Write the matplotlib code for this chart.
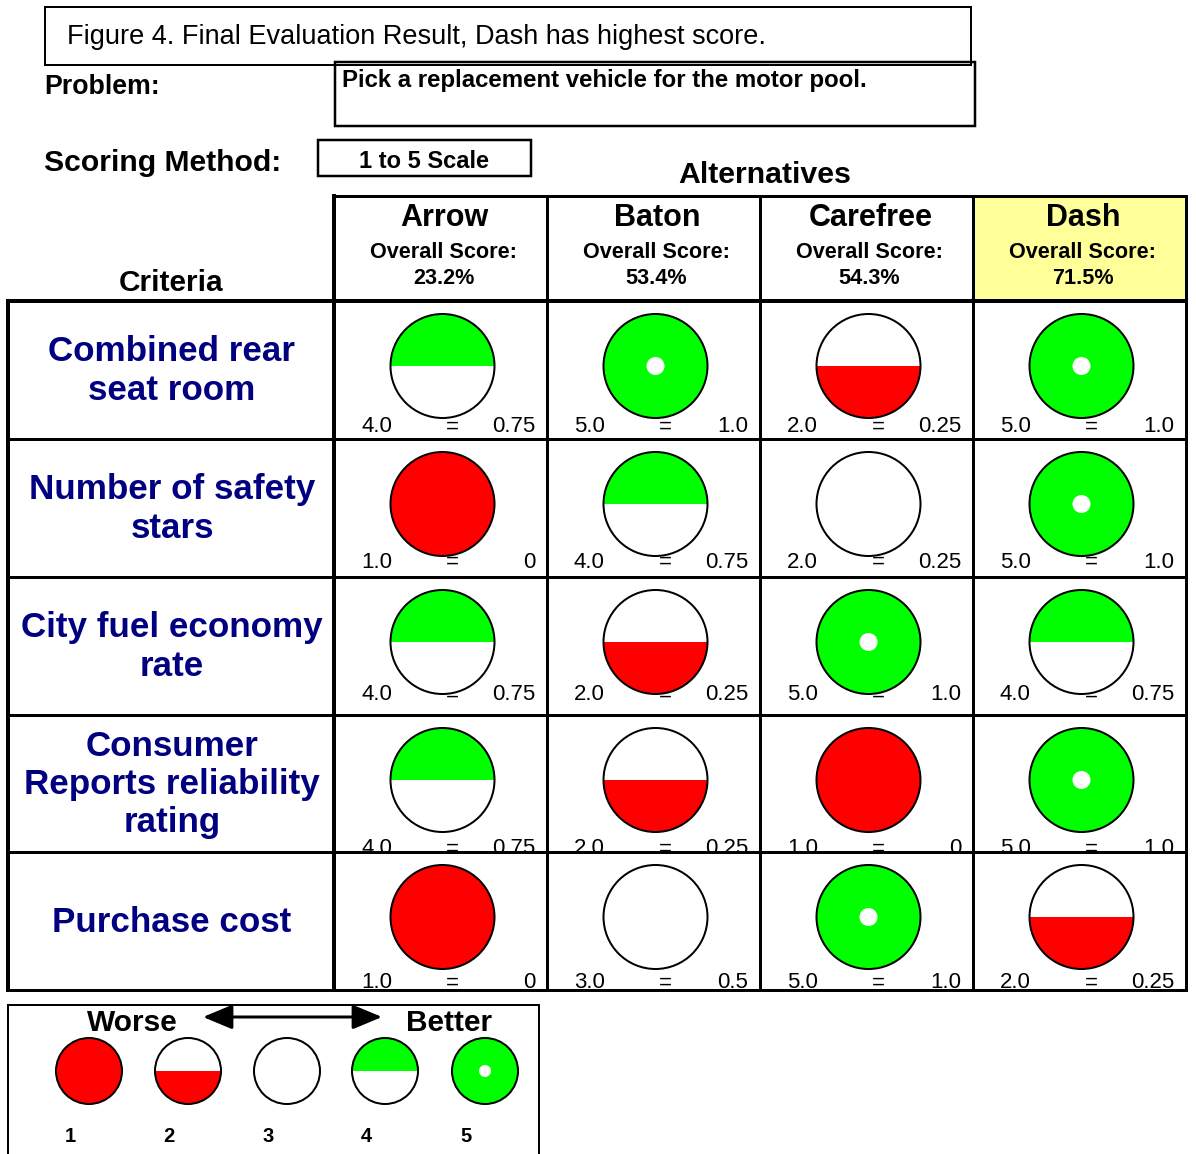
import matplotlib
matplotlib.use("Agg")
import matplotlib.pyplot as plt
from matplotlib.patches import Circle, Wedge, Rectangle

# ---------------- data ----------------
alternatives = ["Arrow", "Baton", "Carefree", "Dash"]
overall_scores = ["23.2%", "53.4%", "54.3%", "71.5%"]
criteria = ["Combined rear\nseat room", "Number of safety\nstars", "City fuel economy\nrate",
            "Consumer\nReports reliability\nrating", "Purchase cost"]
# raw scores (1 to 5 scale), rows = criteria, columns = alternatives
scores = [
    [4, 5, 2, 5],
    [1, 4, 2, 5],
    [4, 2, 5, 4],
    [4, 2, 1, 5],
    [1, 3, 5, 2],
]
# symbol level drawn in each cell (as shown in the chart)
symbols = [
    [4, 5, 2, 5],
    [1, 4, 3, 5],
    [4, 2, 5, 4],
    [4, 2, 1, 5],
    [1, 3, 5, 2],
]
# normalized values as shown
normalized = [
    ["0.75", "1.0", "0.25", "1.0"],
    ["0", "0.75", "0.25", "1.0"],
    ["0.75", "0.25", "1.0", "0.75"],
    ["0.75", "0.25", "0", "1.0"],
    ["0", "0.5", "1.0", "0.25"],
]
legend_levels = [1, 2, 3, 4, 5]

title = "Figure 4. Final Evaluation Result, Dash has highest score."
problem = "Pick a replacement vehicle for the motor pool."
scoring = "1 to 5 Scale"

# ---------------- layout ----------------
W, H = 1196, 1154
FONT = "Liberation Sans"
GREEN = "#00FF00"
RED = "#FF0000"
NAVY = "#000080"
YELLOW = "#FFFF99"

fig = plt.figure(figsize=(W / 100, H / 100), dpi=100)
ax = fig.add_axes([0, 0, 1, 1])
ax.set_xlim(0, W)
ax.set_ylim(0, H)
ax.axis("off")


def Y(y):
    return H - y


def px(p):
    return p * 0.72


def hline(x0, x1, y, w=3):
    ax.plot([x0, x1], [Y(y), Y(y)], color="black", lw=px(w), solid_capstyle="projecting", zorder=5)


def vline(x, y0, y1, w=3):
    ax.plot([x, x], [Y(y0), Y(y1)], color="black", lw=px(w), solid_capstyle="projecting", zorder=5)


def rect(x0, y0, x1, y1, w=2, fc="none"):
    ax.add_patch(Rectangle((x0, Y(y1)), x1 - x0, y1 - y0, fill=(fc != "none"), facecolor=fc,
                           edgecolor="black", lw=px(w), zorder=4))


def harvey(cx, cy, r, level, dot_r):
    cyy = Y(cy)
    lw = px(2)
    if level == 1:
        ax.add_patch(Circle((cx, cyy), r, facecolor=RED, edgecolor="none", zorder=6))
    elif level == 2:
        ax.add_patch(Circle((cx, cyy), r, facecolor="white", edgecolor="none", zorder=6))
        ax.add_patch(Wedge((cx, cyy), r, 180, 360, facecolor=RED, edgecolor="none", zorder=6))
    elif level == 3:
        ax.add_patch(Circle((cx, cyy), r, facecolor="white", edgecolor="none", zorder=6))
    elif level == 4:
        ax.add_patch(Circle((cx, cyy), r, facecolor="white", edgecolor="none", zorder=6))
        ax.add_patch(Wedge((cx, cyy), r, 0, 180, facecolor=GREEN, edgecolor="none", zorder=6))
    else:
        ax.add_patch(Circle((cx, cyy), r, facecolor=GREEN, edgecolor="none", zorder=6))
        ax.add_patch(Circle((cx, cyy), dot_r, facecolor="white", edgecolor="none", zorder=7))
    ax.add_patch(Circle((cx, cyy), r, facecolor="none", edgecolor="black", lw=lw, zorder=8))


def txt(x, y, s, size, weight="normal", ha="left", color="black", va="center", ls=1.2, z=9):
    ax.text(x, Y(y), s, fontsize=size, fontweight=weight, ha=ha, va=va, color=color,
            family=FONT, linespacing=ls, zorder=z)


# ---------------- header area ----------------
rect(45, 7, 971, 65, w=2)
txt(67, 37, title, 19.5)

txt(44, 87, "Problem:", 19.3, "bold")
rect(335, 62, 975, 126, w=2.5)
txt(342, 81, problem, 17.3, "bold")

txt(44, 163, "Scoring Method:", 21.7, "bold")
rect(318, 140, 531, 176, w=2.5)
txt(424, 161, scoring, 17, "bold", ha="center")

txt(765, 175, "Alternatives", 21.8, "bold", ha="center")
txt(171, 283, "Criteria", 21.5, "bold", ha="center")

# ---------------- grid ----------------
col_x = [334, 547, 760, 973, 1186]
row_y = [301, 439, 577, 715, 852, 990]
header_top = 196

# Dash header fill
ax.add_patch(Rectangle((col_x[3], Y(row_y[0])), col_x[4] - col_x[3], row_y[0] - header_top,
                       facecolor=YELLOW, edgecolor="none", zorder=1))

for i, name in enumerate(alternatives):
    cx = (col_x[i] + col_x[i + 1]) / 2
    txt(cx + 4, 218, name, 22, "bold", ha="center")
    txt(cx + 3, 252, "Overall Score:", 15.6, "bold", ha="center")
    txt(cx + 3, 278, overall_scores[i], 15.6, "bold", ha="center")

# lines
hline(col_x[0], col_x[-1], header_top, 3)
hline(8, col_x[-1], row_y[0], 4)
for y in row_y[1:-1]:
    hline(8, col_x[-1], y, 3)
hline(8, col_x[-1], row_y[-1], 3)
vline(8, row_y[0], row_y[-1], 4)
vline(col_x[0], header_top, row_y[-1], 4)
for x in col_x[1:]:
    vline(x, header_top, row_y[-1], 3)

label_dy = [126, 123, 118, 134, 131]
for r, crit in enumerate(criteria):
    top = row_y[r]
    mid = (row_y[r] + row_y[r + 1]) / 2
    txt(172, mid + 1, crit, 25.2, "bold", ha="center", color=NAVY, ls=1.2)
    for c in range(len(alternatives)):
        x0, x1 = col_x[c], col_x[c + 1]
        cx = (x0 + x1) / 2 + 2
        harvey(cx, top + 65, 52, symbols[r][c], 9)
        ly = top + label_dy[r]
        txt(x0 + 27, ly, f"{scores[r][c]:.1f}", 16, z=3)
        txt(x0 + 118, ly, "=", 16, ha="center", z=3)
        txt(x1 - 12, ly, normalized[r][c], 16, ha="right", z=3)

# ---------------- legend ----------------
ax.add_patch(Rectangle((8, Y(1170)), 531, 1170 - 1005, fill=False, edgecolor="black",
                       lw=px(2), zorder=4))
txt(132, 1023, "Worse", 21.5, "bold", ha="center")
txt(449, 1023, "Better", 21.5, "bold", ha="center")
ax.annotate("", xy=(382, Y(1017)), xytext=(203, Y(1017)),
            arrowprops=dict(arrowstyle="<|-|>,head_length=1.8,head_width=0.75", lw=px(3),
                            color="black", shrinkA=0, shrinkB=0), zorder=9)
leg_x = [89, 188, 287, 385, 485]
for lx, lv in zip(leg_x, legend_levels):
    harvey(lx, 1071, 33, lv, 6)
    txt(lx - 19, 1136, str(lv), 14.5, "bold", ha="center")

fig.savefig("out.png", dpi=100)
